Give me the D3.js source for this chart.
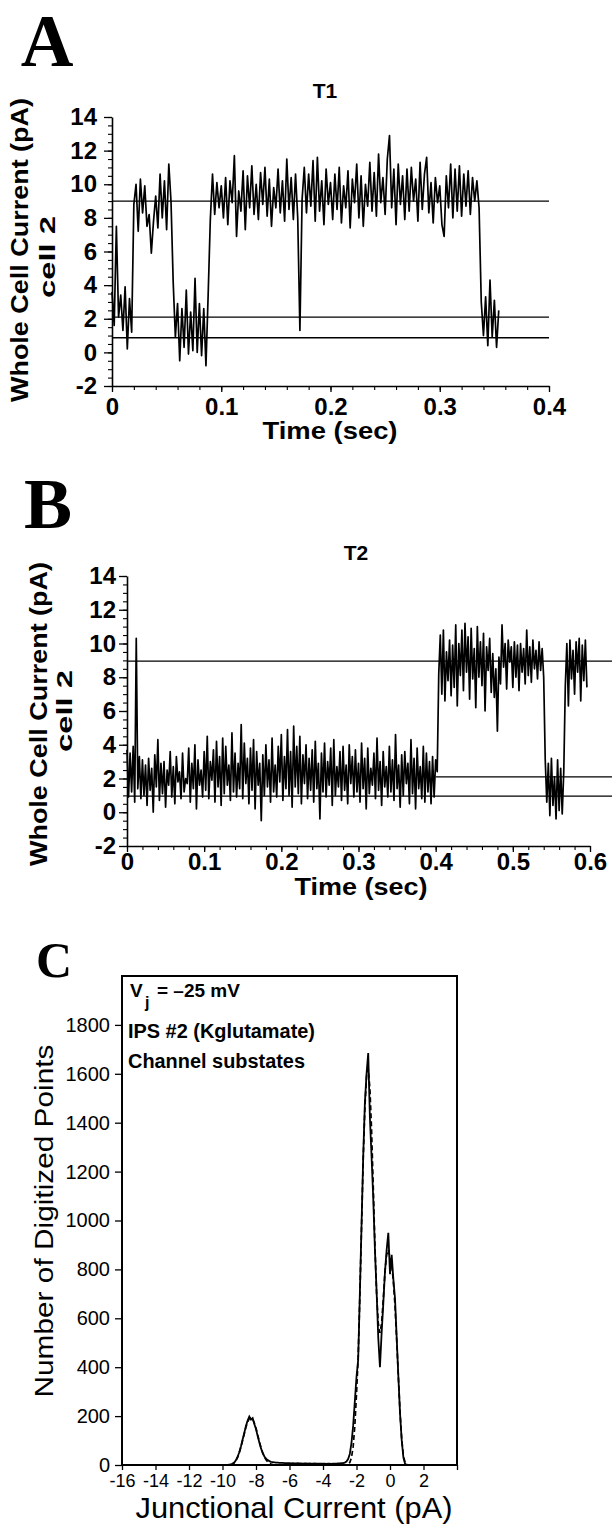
<!DOCTYPE html>
<html>
<head>
<meta charset="utf-8">
<script src="https://cdn.jsdelivr.net/npm/d3@7"></script>
<style>
  body { margin: 0; background: #fff; }
  svg { display: block; }
</style>
</head>
<body>
<svg id="fig" width="612" height="1525"></svg>
<script>
// ---------- data ----------

// shared current axis for the two traces (pA)
const yTicks = [-2, 0, 2, 4, 6, 8, 10, 12, 14];

// A: trace T1, one sample every 2 ms
const dtA = 0.002;
const traceA = [
  3.6, 1.6, 7.5, 2.1, 3.4, 1.3, 3.9, 0.2, 3.2, 1.2,
  8.8, 10.0, 7.2, 10.3, 8.3, 9.9, 7.5, 8.2, 5.9, 7.8,
  9.3, 7.4, 10.6, 8.0, 10.2, 7.3, 11.2, 9.0, 4.2, 0.9,
  2.9, -0.5, 2.6, 0.3, 3.7, -0.1, 2.4, 0.1, 4.4, 0.0,
  2.9, -0.2, 2.6, -0.8, 3.4, 7.9, 10.6, 8.2, 10.1, 8.6,
  9.9, 8.0, 10.4, 7.6, 10.2, 8.9, 11.7, 6.9, 9.6, 8.4,
  10.8, 7.3, 10.5, 8.6, 11.1, 8.2, 10.0, 7.9, 10.7, 8.8,
  11.0, 8.1, 10.3, 7.5, 9.8, 8.6, 10.9, 8.3, 10.2, 7.8,
  11.5, 8.5, 10.4, 7.9, 10.6, 8.0, 1.3, 9.1, 11.0, 8.3,
  10.6, 8.7, 11.4, 7.8, 11.6, 8.4, 10.2, 7.6, 10.9, 8.8,
  10.1, 7.9, 10.6, 8.5, 11.0, 7.7, 9.9, 8.6, 10.8, 7.4,
  10.3, 8.9, 11.2, 8.0, 10.5, 7.5, 10.0, 8.7, 11.3, 8.4,
  10.7, 8.1, 11.8, 8.9, 10.4, 8.2, 11.5, 12.9, 8.6, 10.9,
  7.6, 11.2, 8.8, 10.5, 7.9, 10.9, 8.4, 11.0, 9.0, 10.3,
  7.8, 11.3, 8.5, 10.6, 11.6, 8.3, 10.1, 7.7, 10.4, 8.9,
  9.9, 7.6, 6.9, 10.5, 8.6, 11.2, 8.0, 10.9, 8.4, 11.1,
  8.1, 10.6, 8.7, 10.8, 8.2, 10.4, 9.0, 10.2, 8.6, 3.0,
  1.0, 3.3, 0.4, 4.3, 0.9, 3.1, 0.3, 2.5
];
const xTicksA = [0, 0.1, 0.2, 0.3, 0.4];
const levelValuesA = [9.0, 2.1, 0.87];
const levelStartA = [0, 0, 0];
const levelEndA = [0.4, 0.4, 0.4];

// B: trace T2, one sample every 2 ms
const dtB = 0.002;
const traceB = [
  3.7, 0.9, 3.5, 1.2, 3.9, 0.6, 10.3, 1.4, 3.3, 0.8,
  3.1, 1.0, 2.8, 0.4, 3.2, 1.3, 2.6, 0.0, 3.4, 1.5,
  4.3, 0.7, 2.9, 1.1, 3.0, 0.3, 2.5, 1.6, 3.6, 0.9,
  2.7, 0.5, 3.3, 1.8, 2.4, 0.8, 3.5, 1.2, 2.0, 1.7,
  3.8, 0.6, 2.9, 1.4, 4.0, 0.2, 3.1, 1.6, 2.5, 0.9,
  3.6, 1.3, 4.5, 0.8, 3.0, 1.9, 3.7, 0.6, 4.2, 1.5,
  3.3, 0.4, 4.4, 1.1, 3.9, 1.6, 2.8, 0.7, 4.7, 1.2,
  3.5, 0.9, 2.9, 1.4, 5.2, 0.8, 4.1, 1.7, 3.2, 0.5,
  3.8, 1.3, 4.3, 0.2, 3.6, 1.6, 2.9, -0.5, 3.4, 1.0,
  4.0, 1.5, 3.1, 0.6, 4.4, 1.2, 2.8, 0.9, 3.9, 1.8,
  4.6, 0.7, 3.3, 1.4, 4.9, 1.0, 3.6, 0.3, 5.1, 1.5,
  3.9, 1.1, 4.5, 0.5, 3.4, 1.7, 4.0, 0.8, 3.2, 1.3,
  3.7, 0.6, 4.2, 1.4, 2.9, -0.4, 3.5, 1.2, 4.1, 0.9,
  3.0, 1.6, 3.8, 0.4, 4.3, 1.0, 2.7, 1.5, 3.6, 0.7,
  3.9, 1.3, 2.8, 0.5, 4.0, 1.7, 3.3, 0.9, 3.7, 1.2,
  2.9, 0.6, 4.1, 1.4, 3.2, 0.2, 3.8, 1.1, 2.6, 1.6,
  3.5, 0.8, 4.4, 1.3, 3.0, 0.4, 3.6, 1.5, 2.7, 0.9,
  3.9, 1.2, 3.1, 0.7, 4.6, 1.4, 2.8, 0.3, 3.4, 1.0,
  3.6, 1.7, 2.9, 0.5, 4.3, 1.1, 3.2, 0.2, 3.8, 1.4,
  2.7, 0.8, 3.9, 0.6, 3.5, 1.2, 3.0, 0.5, 3.3, 0.9,
  3.1, 2.4, 8.2, 10.5, 7.0, 10.8, 6.6, 9.5, 7.8, 10.2,
  6.9, 9.9, 7.4, 11.1, 6.3, 10.0, 8.1, 10.8, 7.2, 11.2,
  8.3, 10.4, 6.7, 10.9, 7.9, 9.7, 6.2, 11.0, 8.0, 10.1,
  7.5, 10.6, 6.0, 9.8, 8.4, 10.3, 7.1, 9.4, 6.8, 8.5,
  4.8, 9.2, 7.6, 11.1, 8.6, 10.0, 7.3, 10.2, 8.9, 9.8,
  7.4, 10.1, 8.0, 9.9, 7.2, 10.0, 8.3, 9.7, 7.6, 10.8,
  8.1, 9.8, 7.7, 10.2, 8.5, 9.6, 7.9, 10.1, 8.4, 9.7,
  8.0, 3.1, 0.6, 2.9, -0.2, 3.2, 0.4, 2.1, -0.4, 3.1,
  0.1, 2.6, -0.1, 2.4, 7.5, 10.0, 6.3, 10.2, 7.9, 9.6,
  7.0, 10.1, 8.3, 10.3, 6.6, 9.9, 7.8, 10.2, 7.4
];
const xTicksB = [0, 0.1, 0.2, 0.3, 0.4, 0.5, 0.6];
const levelValuesB = [8.95, 2.1, 0.95];
const levelStartB = [0, 0.4, 0];
const levelEndB = [0.66, 0.66, 0.66];

// C: all-points histogram, bins of 0.1 pA starting at -10 pA
const binStartC = -10;
const binWidthC = 0.1;
const histCounts = [
  0, 0, 0, 0, 1, 2, 5, 10, 19, 33,
  52, 76, 104, 131, 160, 182, 198, 186, 192, 168,
  147, 118, 92, 68, 49, 35, 26, 20, 16, 13,
  12, 11, 10, 10, 9, 9, 9, 8, 8, 8,
  8, 7, 8, 7, 7, 8, 7, 7, 6, 7,
  7, 6, 7, 6, 6, 7, 6, 6, 6, 6,
  6, 6, 5, 6, 6, 5, 6, 6, 6, 7,
  7, 8, 8, 10, 14, 24, 45, 90, 160, 260,
  360, 430, 700, 980, 1260, 1480, 1600, 1685, 1420, 1260,
  1090, 880, 710, 520, 400, 540, 660, 790, 880, 950,
  780, 860, 760, 680, 520, 360, 210, 100, 30, 5,
  0, 0, 0
];
// gaussian fit (dashed)
const fitCounts = [
  0, 0, 0, 0, 0, 1, 4, 9, 18, 31,
  50, 73, 100, 128, 155, 176, 190, 194, 188, 172,
  150, 123, 96, 71, 50, 33, 21, 12, 7, 4,
  2, 1, 0, 0, 0, 0, 0, 0, 0, 0,
  0, 0, 0, 0, 0, 0, 0, 0, 0, 0,
  0, 0, 0, 0, 0, 0, 0, 0, 0, 0,
  0, 0, 0, 0, 0, 0, 0, 0, 0, 0,
  0, 0, 0, 0, 0, 3, 10, 30, 75, 160,
  290, 440, 690, 970, 1250, 1460, 1590, 1620, 1540, 1370,
  1140, 900, 700, 580, 540, 580, 680, 790, 860, 880,
  850, 820, 750, 650, 510, 360, 215, 105, 38, 10,
  2, 0, 0
];
const xTicksC = [-16, -14, -12, -10, -8, -6, -4, -2, 0, 2, 4];
const yTicksC = [0, 200, 400, 600, 800, 1000, 1200, 1400, 1600, 1800];

// ---------- drawing ----------
const svg = d3.select("#fig");
const sans = "'Liberation Sans', Arial, Helvetica, sans-serif";
const serif = "'Liberation Serif', 'Times New Roman', serif";

function label(str, x, y, size, weight, len, family) {
  const t = svg.append("text")
    .attr("x", x).attr("y", y)
    .attr("text-anchor", "middle")
    .attr("font-family", family || sans)
    .attr("font-size", size)
    .attr("font-weight", weight)
    .text(str);
  if (len) t.attr("textLength", len).attr("lengthAdjust", "spacingAndGlyphs");
  return t;
}

function vLabel(str, bx, cy, size, weight, len) {
  svg.append("text")
    .attr("transform", `translate(${bx},${cy}) rotate(-90)`)
    .attr("text-anchor", "middle")
    .attr("font-family", sans)
    .attr("font-size", size)
    .attr("font-weight", weight)
    .attr("textLength", len)
    .attr("lengthAdjust", "spacingAndGlyphs")
    .text(str);
}

function styleAxis(a, size, weight) {
  a.attr("font-family", sans).attr("font-size", size).attr("font-weight", weight);
  a.selectAll("text").attr("fill", "#000");
  a.selectAll("line").attr("stroke", "#000").attr("stroke-width", 1.3);
  a.select(".domain").attr("stroke", "#000").attr("stroke-width", 1.6);
}

function drawTrace(p) {
  const x = d3.scaleLinear().domain([0, p.xMax]).range([p.left, p.right]);
  const y = d3.scaleLinear().domain([-2, 14]).range([p.bottom, p.top]);

  // minor ticks
  svg.append("g").attr("transform", `translate(${p.left},0)`)
    .call(d3.axisLeft(y).tickValues(d3.range(-2, 14.01, 0.5)).tickSize(4).tickFormat(""))
    .call(a => { a.select(".domain").remove(); a.selectAll("line").attr("stroke-width", 1.1); });
  svg.append("g").attr("transform", `translate(0,${p.bottom})`)
    .call(d3.axisBottom(x).tickValues(d3.range(0, p.xMax + 1e-9, 0.02)).tickSize(4).tickFormat(""))
    .call(a => { a.select(".domain").remove(); a.selectAll("line").attr("stroke-width", 1.1); });

  // major ticks + labels
  const ya = svg.append("g").attr("transform", `translate(${p.left},0)`)
    .call(d3.axisLeft(y).tickValues(yTicks).tickSize(8).tickSizeOuter(0)
      .tickPadding(p.yPad).tickFormat(d => String(d)));
  styleAxis(ya, 24, "bold");
  const xa = svg.append("g").attr("transform", `translate(0,${p.bottom})`)
    .call(d3.axisBottom(x).tickValues(p.xTicks).tickSize(6).tickSizeOuter(0)
      .tickPadding(p.xPad).tickFormat(d => String(d)));
  styleAxis(xa, 24, "bold");

  // fitted current levels
  p.levels.forEach((v, i) => {
    svg.append("line")
      .attr("x1", x(p.levelStart[i])).attr("x2", x(p.levelEnd[i]))
      .attr("y1", y(v)).attr("y2", y(v))
      .attr("stroke", "#000").attr("stroke-width", 1.3);
  });

  // current trace
  const line = d3.line().x((d, i) => x(i * p.dt)).y(d => y(d));
  svg.append("path").datum(p.trace)
    .attr("d", line)
    .attr("fill", "none")
    .attr("stroke", "#000")
    .attr("stroke-width", 1.7)
    .attr("stroke-linejoin", "round");
}

// ---- panel A ----
label("A", 47, 66, 73, "bold", null, serif);
label("T1", 325, 98, 21, "bold");
drawTrace({
  left: 112, right: 549, top: 117, bottom: 386, xMax: 0.4,
  xTicks: xTicksA, yPad: 7, xPad: 6,
  trace: traceA, dt: dtA,
  levels: levelValuesA, levelStart: levelStartA, levelEnd: levelEndA
});
vLabel("Whole Cell Current (pA)", 28, 250, 23, "bold", 304);
vLabel("cell 2", 55, 257, 22, "bold", 82);
label("Time (sec)", 330, 439, 24, "bold", 135);

// ---- panel B ----
label("B", 48, 528, 72, "bold", null, serif);
label("T2", 356, 560, 21, "bold");
drawTrace({
  left: 127, right: 590, top: 576, bottom: 846, xMax: 0.6,
  xTicks: xTicksB, yPad: 3, xPad: 1,
  trace: traceB, dt: dtB,
  levels: levelValuesB, levelStart: levelStartB, levelEnd: levelEndB
});
vLabel("Whole Cell Current (pA)", 47, 714, 23, "bold", 304);
vLabel("cell 2", 72, 711, 22, "bold", 82);
label("Time (sec)", 361, 895, 24, "bold", 133);

// ---- panel C ----
const xC = d3.scaleLinear().domain([-16, 4]).range([122, 457]);
const yC = d3.scaleLinear().domain([0, 2000]).range([1465, 976]);

label("C", 54, 977, 50, "bold", null, serif);

svg.append("rect")
  .attr("x", xC(-16)).attr("y", yC(2000))
  .attr("width", xC(4) - xC(-16)).attr("height", yC(0) - yC(2000))
  .attr("fill", "none").attr("stroke", "#000").attr("stroke-width", 2);

const yaC = svg.append("g").attr("transform", `translate(${xC(-16)},0)`)
  .call(d3.axisLeft(yC).tickValues(yTicksC).tickSize(7).tickSizeOuter(0)
    .tickPadding(5).tickFormat(d => String(d)));
styleAxis(yaC, 20, "normal");
yaC.select(".domain").remove();
const xaC = svg.append("g").attr("transform", `translate(0,${yC(0)})`)
  .call(d3.axisBottom(xC).tickValues(xTicksC).tickSize(5).tickSizeOuter(0)
    .tickPadding(4).tickFormat(d => d === 4 ? "" : String(d)));
styleAxis(xaC, 18, "normal");
xaC.select(".domain").remove();

const lineC = d3.line().x((d, i) => xC(binStartC + i * binWidthC)).y(d => yC(d));
svg.append("path").datum(fitCounts)
  .attr("d", lineC).attr("fill", "none")
  .attr("stroke", "#000").attr("stroke-width", 1.7)
  .attr("stroke-dasharray", "5,3");
svg.append("path").datum(histCounts)
  .attr("d", lineC).attr("fill", "none")
  .attr("stroke", "#000").attr("stroke-width", 1.8);

// legend text inside the frame
svg.append("text").attr("x", 130).attr("y", 997)
  .attr("font-family", sans).attr("font-size", 19).attr("font-weight", "bold").text("V");
svg.append("text").attr("x", 145).attr("y", 1008)
  .attr("font-family", sans).attr("font-size", 16).attr("font-weight", "bold").text("j");
svg.append("text").attr("x", 157).attr("y", 997)
  .attr("font-family", sans).attr("font-size", 19).attr("font-weight", "bold").text("= \u201325 mV");
svg.append("text").attr("x", 128).attr("y", 1038)
  .attr("font-family", sans).attr("font-size", 19.5).attr("font-weight", "bold")
  .attr("textLength", 187).attr("lengthAdjust", "spacingAndGlyphs")
  .text("IPS #2 (Kglutamate)");
svg.append("text").attr("x", 128).attr("y", 1068)
  .attr("font-family", sans).attr("font-size", 19.5).attr("font-weight", "bold")
  .attr("textLength", 177).attr("lengthAdjust", "spacingAndGlyphs")
  .text("Channel substates");

vLabel("Number of Digitized Points", 53, 1221, 26, "normal", 353);
label("Junctional Current (pA)", 294, 1518, 29, "normal", 317);
</script>
</body>
</html>
